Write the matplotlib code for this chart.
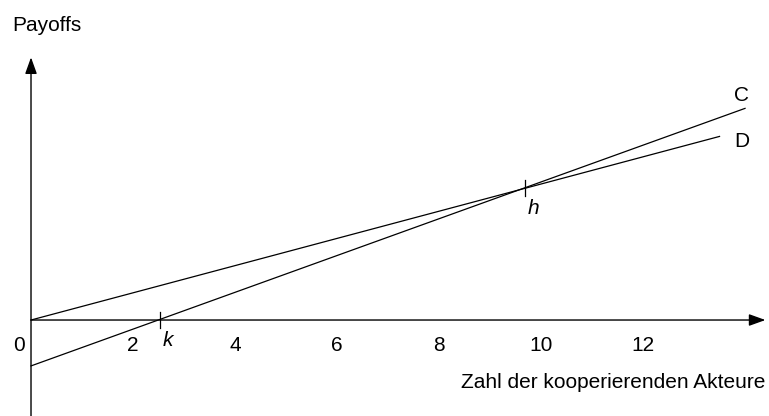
import matplotlib.pyplot as plt

plt.rcParams['font.family'] = ['Liberation Sans', 'DejaVu Sans']

# payoff lines (cooperators C, defectors D)
c_x = [0, 14.0]
c_y = [-0.9, 4.15]
d_x = [0, 13.5]
d_y = [0, 3.6]

xticks = [0, 2, 4, 6, 8, 10, 12]
k_pos = 2.53
h_pos = 9.69
h_val = 2.59

fs = 15

fig = plt.figure(figsize=(7.69, 4.16), dpi=100)
ax = fig.add_axes([0, 0, 1, 1])
ax.set_xlim(-0.608, 14.47)
ax.set_ylim(-1.882, 6.275)
ax.axis('off')

# axes with arrows
ax.annotate('', xy=(14.4, 0), xytext=(0, 0),
            arrowprops=dict(arrowstyle='-|>,head_length=0.5,head_width=0.18', lw=1, color='black',
                            mutation_scale=20, shrinkA=0, shrinkB=0))
ax.annotate('', xy=(0, 5.15), xytext=(0, -1.9),
            arrowprops=dict(arrowstyle='-|>,head_length=0.5,head_width=0.18', lw=1, color='black',
                            mutation_scale=20, shrinkA=0, shrinkB=0))

ax.plot(c_x, c_y, color='black', lw=0.9)
ax.plot(d_x, d_y, color='black', lw=0.9)

# tick marks for k and h
ax.plot([k_pos, k_pos], [-0.16, 0.16], color='black', lw=0.9)
ax.plot([h_pos, h_pos], [h_val - 0.16, h_val + 0.16], color='black', lw=0.9)
ax.text(k_pos + 0.05, -0.22, 'k', style='italic', fontsize=fs, va='top', ha='left')
ax.text(h_pos + 0.05, h_val - 0.22, 'h', style='italic', fontsize=fs, va='top', ha='left')

for t in xticks:
    if t == 0:
        ax.text(-0.24, -0.5, '0', fontsize=fs, ha='center', va='center')
    else:
        ax.text(t, -0.5, str(t), fontsize=fs, ha='center', va='center')

ax.text(13.93, 4.4, 'C', fontsize=fs, ha='center', va='center')
ax.text(13.93, 3.5, 'D', fontsize=fs, ha='center', va='center')

ax.text(-0.37, 5.77, 'Payoffs', fontsize=fs, ha='left', va='center')
ax.text(14.4, -1.23, 'Zahl der kooperierenden Akteure', fontsize=fs, ha='right', va='center')

plt.savefig('out.png', dpi=100)
